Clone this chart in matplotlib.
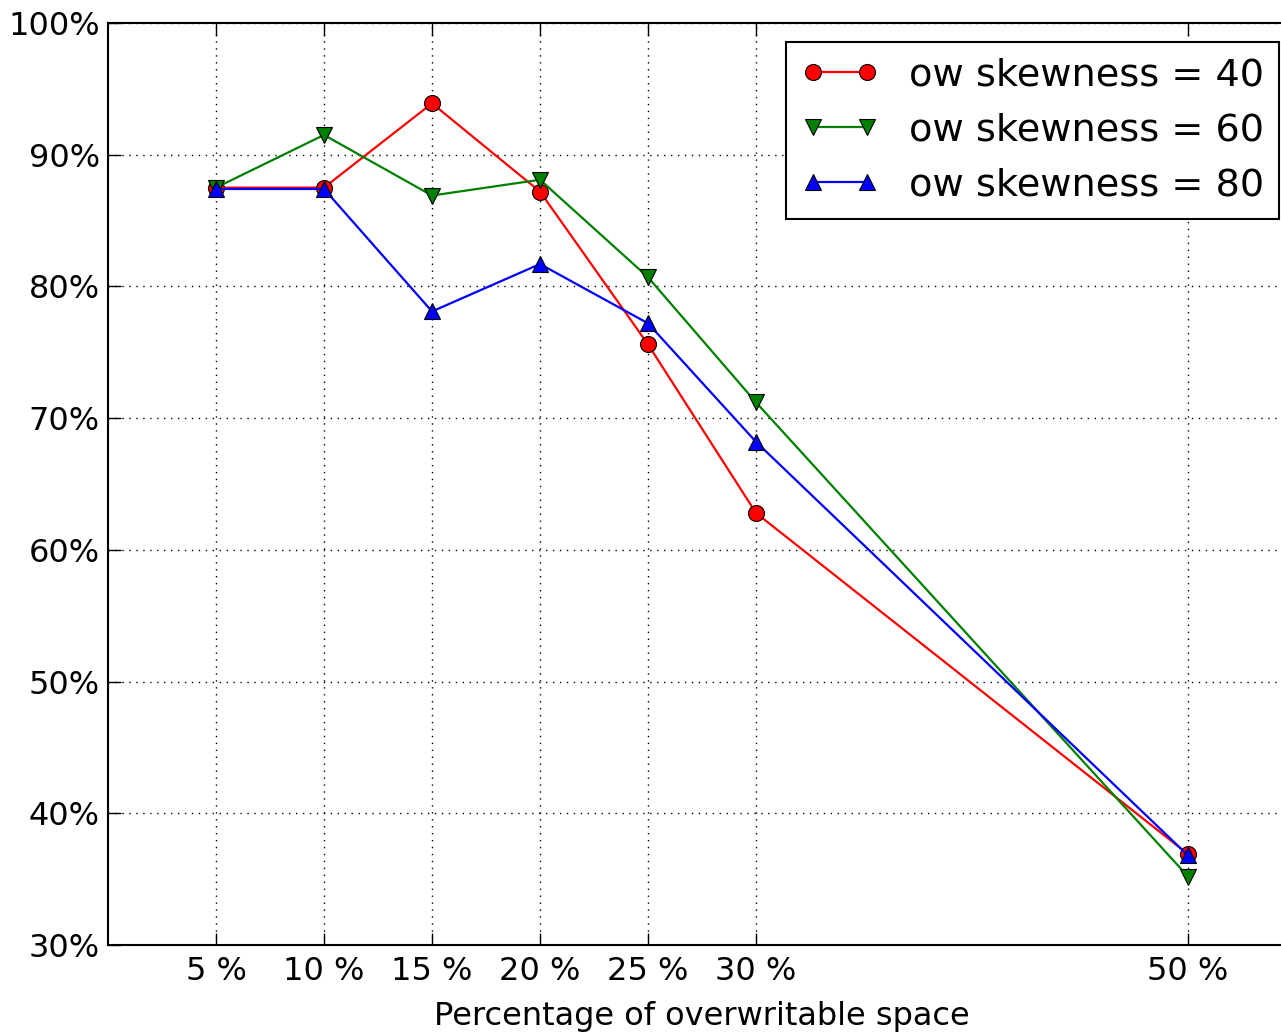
import matplotlib
matplotlib.use("Agg")
import matplotlib.pyplot as plt
from matplotlib.ticker import FuncFormatter

# Overwritable space (%) and resulting rate (%) for each skewness setting
space_pct = [5, 10, 15, 20, 25, 30, 50]
skew_40 = [87.5, 87.5, 93.9, 87.2, 75.6, 62.8, 36.9]
skew_60 = [87.5, 91.5, 86.9, 88.1, 80.7, 71.2, 35.2]
skew_80 = [87.4, 87.4, 78.1, 81.7, 77.2, 68.2, 36.8]
series_labels = ["ow skewness = 40", "ow skewness = 60", "ow skewness = 80"]
x_label = "Percentage of overwritable space"

W, H = 1281, 1032
fig = plt.figure(figsize=(W / 100, H / 100), dpi=100)
left, bottom, top = 108 / W, 87 / H, 1 - 23 / H
ax = fig.add_axes([left, bottom, 1188 / W, top - bottom])

common = dict(linewidth=1.6, markersize=11.5, markeredgecolor="black", markeredgewidth=0.8)
ax.plot(space_pct, skew_40, color="red", marker="o", label=series_labels[0], **common)
ax.plot(space_pct, skew_60, color="green", marker="v", label=series_labels[1], **common)
ax.plot(space_pct, skew_80, color="blue", marker="^", label=series_labels[2], **common)

ax.set_xlim(0, 55)
ax.set_ylim(30, 100)
ax.set_xticks(space_pct)
ax.set_xticklabels([f"{v} %" for v in space_pct])
ax.set_yticks(range(30, 101, 10))
ax.yaxis.set_major_formatter(FuncFormatter(lambda v, _: f"{v:.0f}%"))

ax.grid(True, color="black", linestyle=(0, (1, 4)), linewidth=1.0)
ax.tick_params(direction="in", length=9, width=1, top=True, right=True, labelsize=23)
ax.tick_params(axis="x", pad=8)
ax.tick_params(axis="y", pad=6)
for s in ax.spines.values():
    s.set_linewidth(1.5)

ax.set_xlabel(x_label, fontsize=23, labelpad=10)

leg = ax.legend(loc="upper right", bbox_to_anchor=(1279 / W, 1 - 42 / H),
                bbox_transform=fig.transFigure, borderaxespad=0, numpoints=2,
                fontsize=27.5, fancybox=False, framealpha=1, edgecolor="black",
                handlelength=2.0, handletextpad=0.8, labelspacing=0.5, borderpad=0.4)
leg.get_frame().set_linewidth(1.5)

fig.savefig("out.png", dpi=100)
